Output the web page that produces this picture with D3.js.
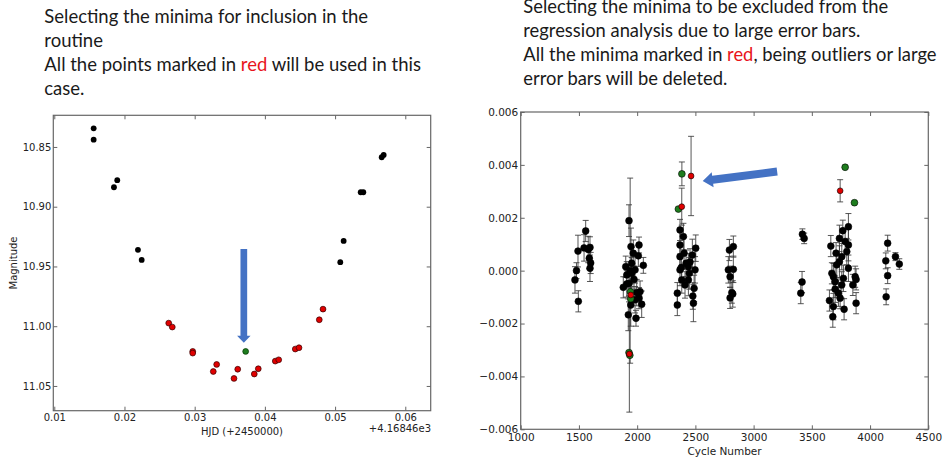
<!DOCTYPE html>
<html>
<head>
<meta charset="utf-8">
<script src="https://cdn.jsdelivr.net/npm/d3@7"></script>
<style>
  body{margin:0;background:#fff;}
  svg{display:block;}
</style>
</head>
<body>
<svg id="fig" width="944" height="459"></svg>
<script>
// ---- left panel : light curve around a minimum ----
const hjdBlack = [0.01561,0.01561,0.01897,0.01850,0.02192,0.02245,0.05074,0.05122,0.05365,0.05402,0.05664,0.05692];
const magBlack = [10.8344,10.8439,10.8778,10.8837,10.9361,10.9445,10.9464,10.9286,10.8879,10.8879,10.8586,10.8567];
const hjdRed = [0.02630,0.02681,0.02972,0.02972,0.03265,0.03313,0.03560,0.03613,0.03849,0.03906,0.04148,0.04197,0.04433,0.04486,0.04775,0.04828];
const magRed = [10.9974,11.0007,11.0211,11.0225,11.0379,11.0320,11.0437,11.0360,11.0400,11.0356,11.0292,11.0281,11.0191,11.0180,10.9946,10.9857];
const hjdGreen = [0.03726];
const magGreen = [11.0211];
const hjdTicks = [0.01,0.02,0.03,0.04,0.05,0.06];
const magTicks = [10.85,10.90,10.95,11.00,11.05];

// ---- right panel : O-C residuals vs cycle ----
const cycleNum = [1466,1479,1492,1495,1558,1544,1595,1589,1601,1595,1580,
  1930,1940,1947,2016,1967,2010,1902,1953,2053,1911,1953,1982,1930,1973,1881,1911,2025,2016,2039,1924,1990,1982,1945,1996,
  2368,2397,2368,2403,2368,2420,2368,2440,2503,2474,2497,2448,2383,2440,2489,2345,2478,2345,2483,2411,2454,2380,
  2792,2826,2783,2826,2798,2813,2798,2821,
  3419,3434,3416,3405,
  3814,3766,3737,3786,3814,3663,3800,3708,3757,3737,3714,3814,3672,3685,3872,3771,3880,3700,3757,3852,3700,3728,3743,3651,3880,3777,3685,3680,
  4151,4218,4251,4135,4151,4138];
const ocVal = [-0.00035,0.0000,0.00074,-0.00116,0.0015,0.00086,0.00088,0.00047,0.00029,0.00009,0.0008,
  0.00189,0.0000,0.00091,0.00097,0.00066,0.00056,0.00015,0.00028,0.0002,-0.00016,-0.0001,0.00003,-0.00048,-0.00033,-0.00063,-0.0005,-0.00079,-0.00104,-0.00127,-0.00167,-0.0018,-0.0011,-0.0013,-0.00083,
  0.00154,0.00129,0.00097,0.00066,0.00053,0.00028,0.00003,0.00015,0.00085,0.00059,0.00003,-0.0001,-0.00035,-0.00035,-0.00067,-0.00085,-0.00096,-0.0013,-0.00123,-0.00054,0.00033,0.00012,
  0.00078,0.00091,0.00003,0.00005,-0.00023,-0.00083,-0.00103,-0.00088,
  0.00138,0.00122,-0.00043,-0.00085,
  0.00166,0.00151,0.00122,0.0011,0.00097,0.00093,0.00072,0.00066,0.00053,0.00034,0.00022,0.00009,-0.0001,-0.00023,-0.00023,-0.00029,-0.00033,-0.00042,-0.00054,-0.00054,-0.0007,-0.00085,-0.00104,-0.00113,-0.00123,-0.00146,-0.00136,-0.00174,
  0.00104,0.00053,0.00025,0.00037,-0.00019,-0.00099];
const ocErr = [0.0005,0.0003,0.0006,0.0004,0.0004,0.0005,0.0004,0.0004,0.0004,0.0005,0.0005,
  0.0006,0.0035,0.0007,0.0003,0.0005,0.0004,0.0004,0.0006,0.0003,0.0005,0.0006,0.0005,0.0007,0.0005,0.0004,0.0005,0.0004,0.0004,0.0005,0.0006,0.0003,0.0005,0.0008,0.0005,
  0.0004,0.0005,0.0005,0.0006,0.0004,0.0005,0.0006,0.0005,0.0005,0.0006,0.0005,0.0006,0.0005,0.0006,0.0005,0.0004,0.0005,0.0004,0.0007,0.0005,0.0005,0.0005,
  0.0004,0.0004,0.0005,0.0005,0.0004,0.0004,0.0004,0.0005,
  0.0002,0.0002,0.0004,0.0004,
  0.0005,0.0004,0.0005,0.0005,0.0006,0.0004,0.0005,0.0004,0.0005,0.0006,0.0005,0.0005,0.0004,0.0005,0.0004,0.0005,0.0004,0.0006,0.0005,0.0004,0.0005,0.0005,0.0004,0.0004,0.0004,0.0004,0.0005,0.0004,
  0.0003,0.00015,0.0002,0.0003,0.0003,0.0003];
const redCycle = [2383,2463,3743,1945,1933];
const redOC = [0.00242,0.00358,0.00302,-0.00092,-0.00315];
const redErr = [0.0007,0.0015,0.00042,0.0003,0.0022];
const greenCycle = [2384,2354,3786,3866,1942,1945,1930,1937];
const greenOC = [0.00366,0.00233,0.00391,0.00257,-0.0008,-0.00106,-0.0031,-0.0032];
const greenErr = [0.00045,0,0,0,0,0,0,0];
const cycleTicks = [1000,1500,2000,2500,3000,3500,4000,4500];
const ocTicks = [-0.006,-0.004,-0.002,0,0.002,0.004,0.006];

const svg = d3.select('#fig');
const tickFont = '"DejaVu Sans", sans-serif';
const spine = '#666';
const arrowBlue = '#4472c4';

function zip(a,b,c){ return a.map((v,i)=>({x:v, y:b[i], e:c?c[i]:0})); }

// matplotlib-ish frame with inward ticks on all sides
function frame(g, x, y, xt, yt, xfmt, yfmt, fs, pad){
  const [x0,x1] = x.range();
  const top = d3.min(y.range()), bot = d3.max(y.range());
  g.append('rect').attr('x',x0).attr('y',top).attr('width',x1-x0).attr('height',bot-top)
    .attr('fill','none').attr('stroke',spine).attr('stroke-width',1.2);
  const mk = (ax, tr, fmt, p) => {
    const a = g.append('g').attr('transform',tr)
      .call(ax.tickSizeInner(-4).tickSizeOuter(0).tickPadding(p).tickFormat(fmt || ''));
    a.select('.domain').remove();
    a.selectAll('line').attr('stroke',spine);
    a.selectAll('text').attr('font-family',tickFont).attr('font-size',fs).attr('fill','#222');
    return a;
  };
  mk(d3.axisBottom(x).tickValues(xt), `translate(0,${bot})`, xfmt, pad[0]);
  mk(d3.axisTop(x).tickValues(xt), `translate(0,${top})`, null, 0);
  mk(d3.axisLeft(y).tickValues(yt), `translate(${x0},0)`, yfmt, pad[1]);
  mk(d3.axisRight(y).tickValues(yt), `translate(${x1},0)`, null, 0);
}

function arrow(g, x0, y0, x1, y1, sw, hw, hl){
  const dx = x1-x0, dy = y1-y0, L = Math.hypot(dx,dy);
  const ux = dx/L, uy = dy/L, nx = -uy, ny = ux;
  const bx = x1-ux*hl, by = y1-uy*hl;
  const pts = [
    [x0+nx*sw/2, y0+ny*sw/2],[bx+nx*sw/2, by+ny*sw/2],[bx+nx*hw/2, by+ny*hw/2],[x1,y1],
    [bx-nx*hw/2, by-ny*hw/2],[bx-nx*sw/2, by-ny*sw/2],[x0-nx*sw/2, y0-ny*sw/2]];
  g.append('polygon').attr('points', pts.map(p=>p.join(',')).join(' ')).attr('fill',arrowBlue);
}

function textBlock(x, baselines, lines, targetW){
  const t = svg.append('g').attr('font-family','Lato, "Open Sans", sans-serif').attr('fill','#1a1a1a');
  const nodes = lines.map((segs,i)=>{
    const tx = t.append('text').attr('x',x).attr('y',baselines[i]).attr('font-size',20);
    segs.forEach(s=>tx.append('tspan').text(s[0]).attr('fill',s[1]||null));
    return tx;
  });
  const w = nodes[0].node().getComputedTextLength();
  t.selectAll('text').attr('font-size', 20*targetW/w);
}

// ---------- left chart ----------
const xL = d3.scaleLinear().domain([0.00986,0.06362]).range([53.3,430.7]);
const yL = d3.scaleLinear().domain([10.8235,11.0707]).range([115.3,410.7]);
const gL = svg.append('g');
frame(gL, xL, yL, hjdTicks, magTicks, d3.format('.2f'), d3.format('.2f'), 10, [3.5,2]);

gL.selectAll('circle.blk').data(zip(hjdBlack,magBlack)).join('circle')
  .attr('cx',d=>xL(d.x)).attr('cy',d=>yL(d.y)).attr('r',2.9).attr('fill','#000');
gL.selectAll('circle.red').data(zip(hjdRed,magRed)).join('circle').attr('class','red')
  .attr('cx',d=>xL(d.x)).attr('cy',d=>yL(d.y)).attr('r',2.9)
  .attr('fill','#e00000').attr('stroke','#300').attr('stroke-width',0.7);
gL.selectAll('circle.grn').data(zip(hjdGreen,magGreen)).join('circle').attr('class','grn')
  .attr('cx',d=>xL(d.x)).attr('cy',d=>yL(d.y)).attr('r',2.9)
  .attr('fill','#1e7d1e').attr('stroke','#030').attr('stroke-width',0.7);

arrow(gL, xL(0.0370), yL(10.9353), xL(0.0370), yL(11.0138), 6.7, 13.5, 7);

gL.append('text').attr('x',(53.3+430.7)/2).attr('y',434.5).attr('text-anchor','middle')
  .attr('font-family',tickFont).attr('font-size',10).attr('fill','#222').text('HJD (+2450000)');
gL.append('text').attr('x',431).attr('y',432).attr('text-anchor','end')
  .attr('font-family',tickFont).attr('font-size',10).attr('fill','#222').text('+4.16846e3');
gL.append('text').attr('transform','translate(17,263) rotate(-90)').attr('text-anchor','middle')
  .attr('font-family',tickFont).attr('font-size',10).attr('fill','#222').text('Magnitude');

// ---------- right chart ----------
const xR = d3.scaleLinear().domain([1000,4500]).range([520.7,928.3]);
const yR = d3.scaleLinear().domain([-0.006,0.006]).range([429.3,112]);
const gR = svg.append('g');
frame(gR, xR, yR, cycleTicks, ocTicks, d3.format('d'), d3.format('.3f'), 10.5, [3.8,2.5]);

const allPts = zip(cycleNum,ocVal,ocErr).map(d=>({...d,c:'k'}))
  .concat(zip(greenCycle,greenOC,greenErr).map(d=>({...d,c:'g'})))
  .concat(zip(redCycle,redOC,redErr).map(d=>({...d,c:'r'})));

const eb = gR.append('g').attr('stroke','#3a3a3a').attr('stroke-width',1).attr('stroke-opacity',0.85);
allPts.filter(d=>d.e>0).forEach(d=>{
  const cx = xR(d.x), t = yR(d.y+d.e), b = yR(d.y-d.e);
  eb.append('line').attr('x1',cx).attr('x2',cx).attr('y1',t).attr('y2',b);
  eb.append('line').attr('x1',cx-3).attr('x2',cx+3).attr('y1',t).attr('y2',t);
  eb.append('line').attr('x1',cx-3).attr('x2',cx+3).attr('y1',b).attr('y2',b);
});

const fillOf = {k:'#000', g:'#1e7d1e', r:'#e00000'};
const rOf = {k:3.4, g:3.4, r:2.9};
gR.append('g').selectAll('circle').data(allPts).join('circle')
  .attr('cx',d=>xR(d.x)).attr('cy',d=>yR(d.y)).attr('r',d=>rOf[d.c])
  .attr('fill',d=>fillOf[d.c]).attr('stroke','#000').attr('stroke-width',0.6);

arrow(gR, xR(3202), yR(0.00375), xR(2563), yR(0.00339), 8, 15, 10);

gR.append('text').attr('x',(520.7+928.3)/2).attr('y',455).attr('text-anchor','middle')
  .attr('font-family',tickFont).attr('font-size',10.5).attr('fill','#222').text('Cycle Number');

// ---------- captions ----------
const red = '#e8141c';
textBlock(44.3, [23,47,71,95], [
  [['Selecting the minima for inclusion in the']],
  [['routine']],
  [['All the points marked in '],['red',red],[' will be used in this']],
  [['case.']]
], 324);
textBlock(523.3, [13,37,61,85], [
  [['Selecting the minima to be excluded from the']],
  [['regression analysis due to large error bars.']],
  [['All the minima marked in '],['red',red],[', being outliers or large']],
  [['error bars will be deleted.']]
], 365);
</script>
</body>
</html>
